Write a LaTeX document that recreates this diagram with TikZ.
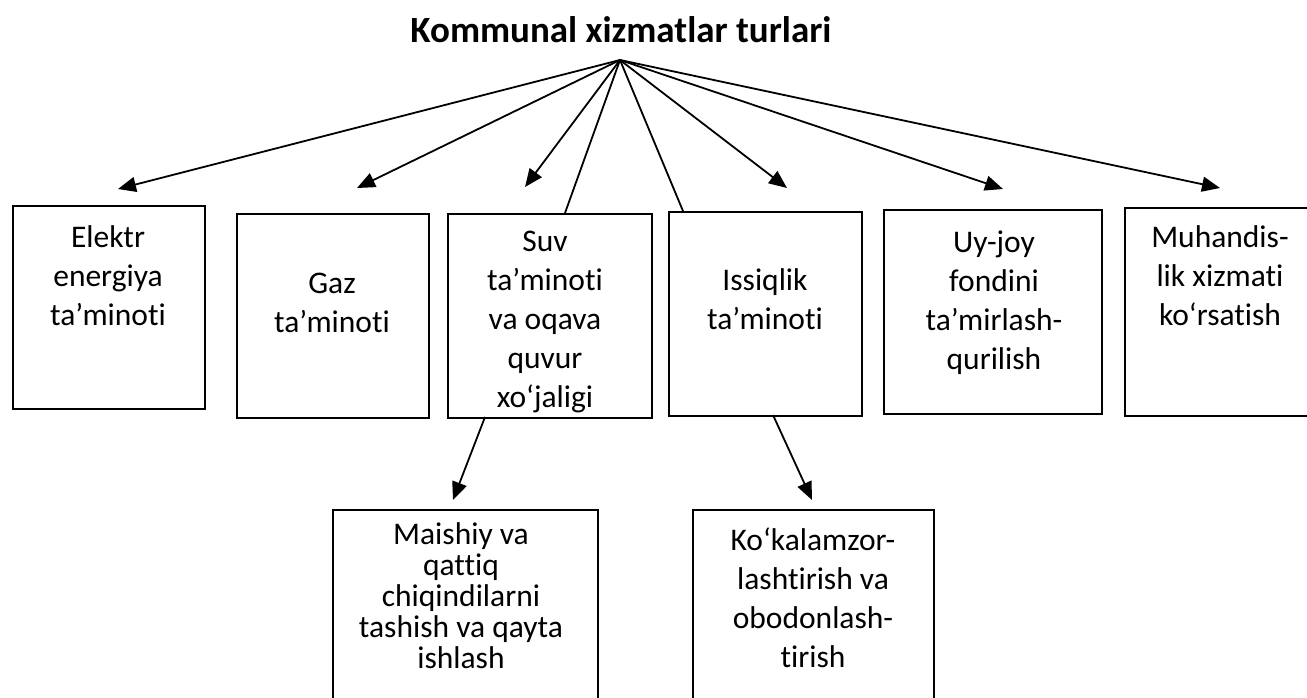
\documentclass[tikz,border=0pt]{standalone}
\usepackage{fontspec}
\setmainfont{Carlito}[Ligatures=NoCommon]
\usetikzlibrary{arrows.meta}
\tikzset{
  box/.style={draw, line width=1.8pt, rectangle, anchor=north west, inner sep=0pt},
  txt/.style={align=center, inner sep=0pt, anchor=north, font=\fontsize{31.5}{39}\selectfont},
  arr/.style={-{Triangle[length=18pt, width=15pt]}, line width=1.8pt},
  ln/.style={line width=1.8pt}
}
\begin{document}
\begin{tikzpicture}[x=1pt, y=-1pt]
  \useasboundingbox (0,0) rectangle (1307,697);
  \node[anchor=base, inner sep=0pt, font=\fontsize{37}{44}\selectfont\bfseries] (title) at (621,42) {Kommunal xizmatlar turlari};
  \coordinate (apex) at (620,60);

  %%boxes
  \node[box, minimum width=192, minimum height=203] (elektr) at (12,205) {};
  \node[box, minimum width=192, minimum height=204] (gaz) at (236,213) {};
  \node[box, minimum width=204, minimum height=204] (suv) at (447,213) {};
  \node[box, minimum width=193, minimum height=204] (issiq) at (668,211) {};
  \node[box, minimum width=218, minimum height=204] (uyjoy) at (883,209) {};
  \node[box, minimum width=220, minimum height=208] (muhand) at (1124,207) {};
  \node[box, minimum width=265, minimum height=230] (maishiy) at (332,509) {};
  \node[box, minimum width=241, minimum height=230] (kokalam) at (692,509) {};

  %%texts
  \node[txt] (elektrT) at (108,225) {Elektr\\energiya\\ta’minoti};
  \node[txt] (gazT) at (332,273) {Gaz\\ta’minoti};
  \node[txt] (suvT) at (545,231) {Suv\\ta’minoti\\va oqava\\quvur\\xo‘jaligi};
  \node[txt] (issiqT) at (765,268) {Issiqlik\\ta’minoti};
  \node[txt] (uyjoyT) at (994,231) {Uy-joy\\fondini\\ta’mirlash-\\qurilish};
  \node[txt] (muhandT) at (1220,225) {Muhandis-\\lik xizmati\\ko‘rsatish};
  \node[txt, font=\fontsize{31.5}{31}\selectfont] (maishiyT) at (461,522) {Maishiy va\\qattiq\\chiqindilarni\\tashish va qayta\\ishlash};
  \node[txt] (kokalamT) at (813,528) {Ko‘kalamzor-\\lashtirish va\\obodonlash-\\tirish};

  %%arrow ends
  \coordinate (elektrA) at (118,189);
  \coordinate (gazA) at (357,188);
  \coordinate (suvA) at (525,187);
  \coordinate (suvL) at (565,213);
  \coordinate (issiqL) at (683,211);
  \coordinate (issiqA) at (787,188);
  \coordinate (uyjoyA) at (1003,189);
  \coordinate (muhandA) at (1220,188);
  \coordinate (suvB) at (485,417);
  \coordinate (maishiyA) at (453,500);
  \coordinate (issiqB) at (773,415);
  \coordinate (kokalamA) at (812,500);

  %%connectors
  \draw[arr] (apex) to (elektrA);
  \draw[arr] (apex) to (gazA);
  \draw[arr] (apex) to (suvA);
    \draw[ln] (apex) to (suvL);
    \draw[ln] (apex) to (issiqL);
  \draw[arr] (apex) to (issiqA);
  \draw[arr] (apex) to (uyjoyA);
  \draw[arr] (apex) to (muhandA);

  \draw[arr] (suvB) to (maishiyA);
  \draw[arr] (issiqB) to (kokalamA);
\end{tikzpicture}
\end{document}
